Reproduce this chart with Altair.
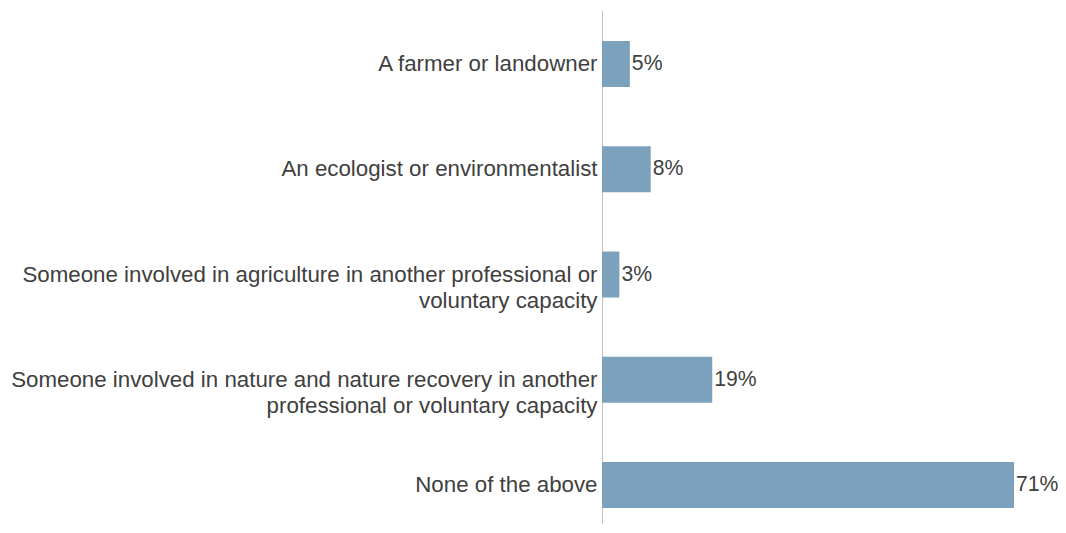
import altair as alt
import pandas as pd

categories = [
    "A farmer or landowner",
    "An ecologist or environmentalist",
    "Someone involved in agriculture in another professional or|voluntary capacity",
    "Someone involved in nature and nature recovery in another|professional or voluntary capacity",
    "None of the above",
]
values = [4.8, 8.4, 3.0, 19.0, 71.0]

df = pd.DataFrame({"category": categories, "value": values})

FONT = "Liberation Sans"
TXT = "#404040"
FS = 22.3

y_enc = alt.Y(
    "category:N",
    sort=categories,
    title=None,
    scale=alt.Scale(paddingInner=0.563, paddingOuter=0.2233, align=0.66),
    axis=alt.Axis(
        labelExpr="split(datum.label, '|')",
        labelFont=FONT,
        labelFontSize=FS,
        labelColor=TXT,
        labelLineHeight=26,
        labelPadding=5,
        labelLimit=700,
        ticks=False,
        domainColor="#BFBFBF",
        domainWidth=1,
        grid=False,
    ),
)

x_enc = alt.X("value:Q", scale=alt.Scale(domain=[0, 71], nice=False), axis=None)

bars = alt.Chart(df).mark_bar(color="#7BA1BD").encode(x=x_enc, y=y_enc)

labels = alt.Chart(df).transform_calculate(
    lab="format(datum.value, '.0f') + '%'"
).mark_text(
    align="left", baseline="middle", dx=2, font=FONT, fontSize=21.2, color=TXT
).encode(
    x=x_enc,
    y=alt.Y("category:N", sort=categories),
    text="lab:N",
)

chart = (
    alt.layer(bars, labels)
    .properties(
        width=412,
        height=514,
        padding={"left": 594, "top": 2, "right": 44, "bottom": 0},
        autosize=alt.AutoSizeParams(type="none"),
        background="white",
    )
    .configure_view(strokeWidth=0, stroke=None)
)

chart.save("out.html", embed_options={"renderer": "svg", "actions": False})
